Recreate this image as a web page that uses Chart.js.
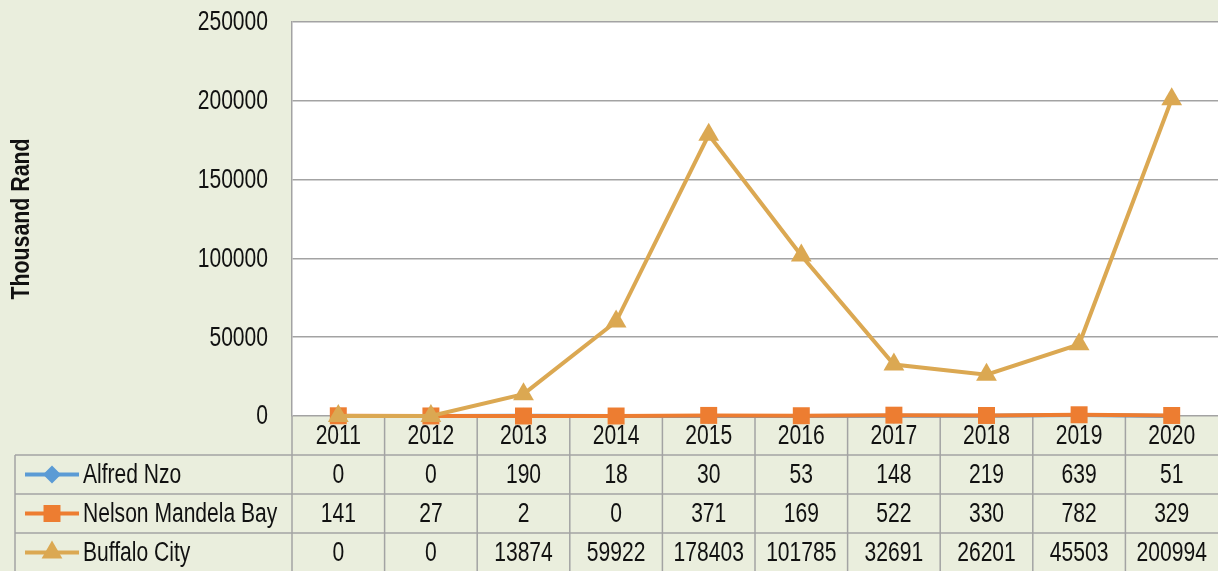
<!DOCTYPE html>
<html>
<head>
<meta charset="utf-8">
<script src="https://cdn.jsdelivr.net/npm/chart.js@4"></script>
<style>
  html, body { margin: 0; padding: 0; background: #EAEEDD; }
  #chart { display: block; }
</style>
</head>
<body>
<canvas id="chart" width="1218" height="571"></canvas>
<script>
const years = ['2011', '2012', '2013', '2014', '2015', '2016', '2017', '2018', '2019', '2020'];
const alfredNzo = [0, 0, 190, 18, 30, 53, 148, 219, 639, 51];
const nelsonMandelaBay = [141, 27, 2, 0, 371, 169, 522, 330, 782, 329];
const buffaloCity = [0, 0, 13874, 59922, 178403, 101785, 32691, 26201, 45503, 200994];
const seriesNames = ['Alfred Nzo', 'Nelson Mandela Bay', 'Buffalo City'];
const yMin = 0, yMax = 250000, yStep = 50000;
const yTitle = 'Thousand Rand';

const FONT = "'Liberation Sans', Arial, sans-serif";
const BG = '#EAEEDD';
const GRID = '#A3A3A3';
const TEXT = '#111';
const colors = ['#5B9BD5', '#ED7D31', '#DBA852'];
const markers = ['rectRot', 'rect', 'triangle'];
const markerSizes = [9, 12, 12];

// the original uses a narrow font, squeeze a normal one horizontally
function narrowText(ctx, text, x, y, align, size, bold, squeeze) {
    ctx.save();
    ctx.font = (bold ? 'bold ' : '') + size + 'px ' + FONT;
    ctx.fillStyle = TEXT;
    ctx.textAlign = align;
    ctx.textBaseline = 'middle';
    ctx.translate(x, y);
    ctx.scale(squeeze || 0.78, 1);
    ctx.fillText(text, 0, 0);
    ctx.restore();
}

// draw a small marker for the table legend keys
function drawMarker(ctx, style, x, y, r, color) {
    ctx.save();
    ctx.fillStyle = color;
    ctx.beginPath();
    if (style === 'rectRot') {
        ctx.moveTo(x - r, y); ctx.lineTo(x, y - r); ctx.lineTo(x + r, y); ctx.lineTo(x, y + r);
    } else if (style === 'rect') {
        const s = r * Math.SQRT1_2;
        ctx.rect(x - s, y - s, 2 * s, 2 * s);
    } else {
        ctx.moveTo(x, y - r);
        ctx.lineTo(x + r * 0.866, y + r * 0.5);
        ctx.lineTo(x - r * 0.866, y + r * 0.5);
    }
    ctx.closePath();
    ctx.fill();
    ctx.restore();
}

const backgroundPlugin = {
    id: 'bg',
    beforeDraw(chart) {
        const { ctx, chartArea: a } = chart;
        ctx.save();
        ctx.fillStyle = BG;
        ctx.fillRect(0, 0, chart.width, chart.height);
        ctx.fillStyle = '#ffffff';
        ctx.fillRect(a.left, a.top, a.right - a.left, a.bottom - a.top);
        ctx.restore();
    }
};

// y tick labels, axis title and the data table under the plot
const dataTablePlugin = {
    id: 'dataTable',
    beforeDatasetsDraw(chart) {
        const { ctx, chartArea: a } = chart;
        const x = chart.scales.x;
        const y = chart.scales.y;

        y.ticks.forEach(t => {
            narrowText(ctx, String(t.value), a.left - 24, y.getPixelForValue(t.value) + 1, 'right', 27);
        });

        ctx.save();
        ctx.translate(22, (a.top + a.bottom) / 2);
        ctx.rotate(-Math.PI / 2);
        narrowText(ctx, yTitle, 0, 0, 'center', 26, true, 0.82);
        ctx.restore();

        const half = (x.getPixelForValue(1) - x.getPixelForValue(0)) / 2;
        const rowH = 39;
        const top = a.bottom;
        const rows = [alfredNzo, nelsonMandelaBay, buffaloCity];

        ctx.save();
        ctx.strokeStyle = GRID;
        ctx.lineWidth = 1.5;
        for (let r = 1; r <= 3; r++) {
            const ly = top + r * rowH;
            ctx.beginPath(); ctx.moveTo(15, ly); ctx.lineTo(chart.width, ly); ctx.stroke();
        }
        ctx.beginPath(); ctx.moveTo(15, top + rowH); ctx.lineTo(15, chart.height); ctx.stroke();
        for (let i = 0; i < years.length; i++) {
            const bx = x.getPixelForValue(i) - half;
            ctx.beginPath(); ctx.moveTo(bx, top); ctx.lineTo(bx, chart.height); ctx.stroke();
        }
        ctx.restore();

        years.forEach((yr, i) => narrowText(ctx, yr, x.getPixelForValue(i), top + rowH / 2 + 1, 'center', 27));

        rows.forEach((vals, r) => {
            const cy = top + (r + 1) * rowH + rowH / 2 + 1;
            vals.forEach((v, i) => narrowText(ctx, String(v), x.getPixelForValue(i), cy, 'center', 27));
            ctx.save();
            ctx.strokeStyle = colors[r];
            ctx.lineWidth = 4;
            ctx.beginPath(); ctx.moveTo(25, cy - 1); ctx.lineTo(79, cy - 1); ctx.stroke();
            ctx.restore();
            drawMarker(ctx, markers[r], 52, cy - 1, markerSizes[r], colors[r]);
            narrowText(ctx, seriesNames[r], 83, cy, 'left', 27);
        });
    }
};

const seriesData = [alfredNzo, nelsonMandelaBay, buffaloCity];

new Chart(document.getElementById('chart'), {
    type: 'line',
    data: {
        labels: years,
        datasets: seriesData.map((d, i) => ({
            label: seriesNames[i],
            data: d,
            borderColor: colors[i],
            backgroundColor: colors[i],
            borderWidth: 4,
            pointStyle: markers[i],
            pointRadius: i === 0 ? 8 : 12,
            pointBorderWidth: 0,
            tension: 0,
            clip: false,
            order: 2 - i
        }))
    },
    options: {
        responsive: false,
        animation: false,
        layout: { autoPadding: false, padding: { top: 22, right: 0, bottom: 155, left: 0 } },
        plugins: {
            legend: { display: false },
            tooltip: { enabled: false }
        },
        scales: {
            x: {
                display: false,
                offset: true
            },
            y: {
                min: yMin,
                max: yMax,
                afterFit: scale => { scale.width = 292; },
                ticks: { stepSize: yStep, display: false },
                grid: { color: GRID, lineWidth: 1.5, drawTicks: false },
                border: { display: true, color: GRID, width: 1.5 }
            }
        }
    },
    plugins: [backgroundPlugin, dataTablePlugin]
});
</script>
</body>
</html>
